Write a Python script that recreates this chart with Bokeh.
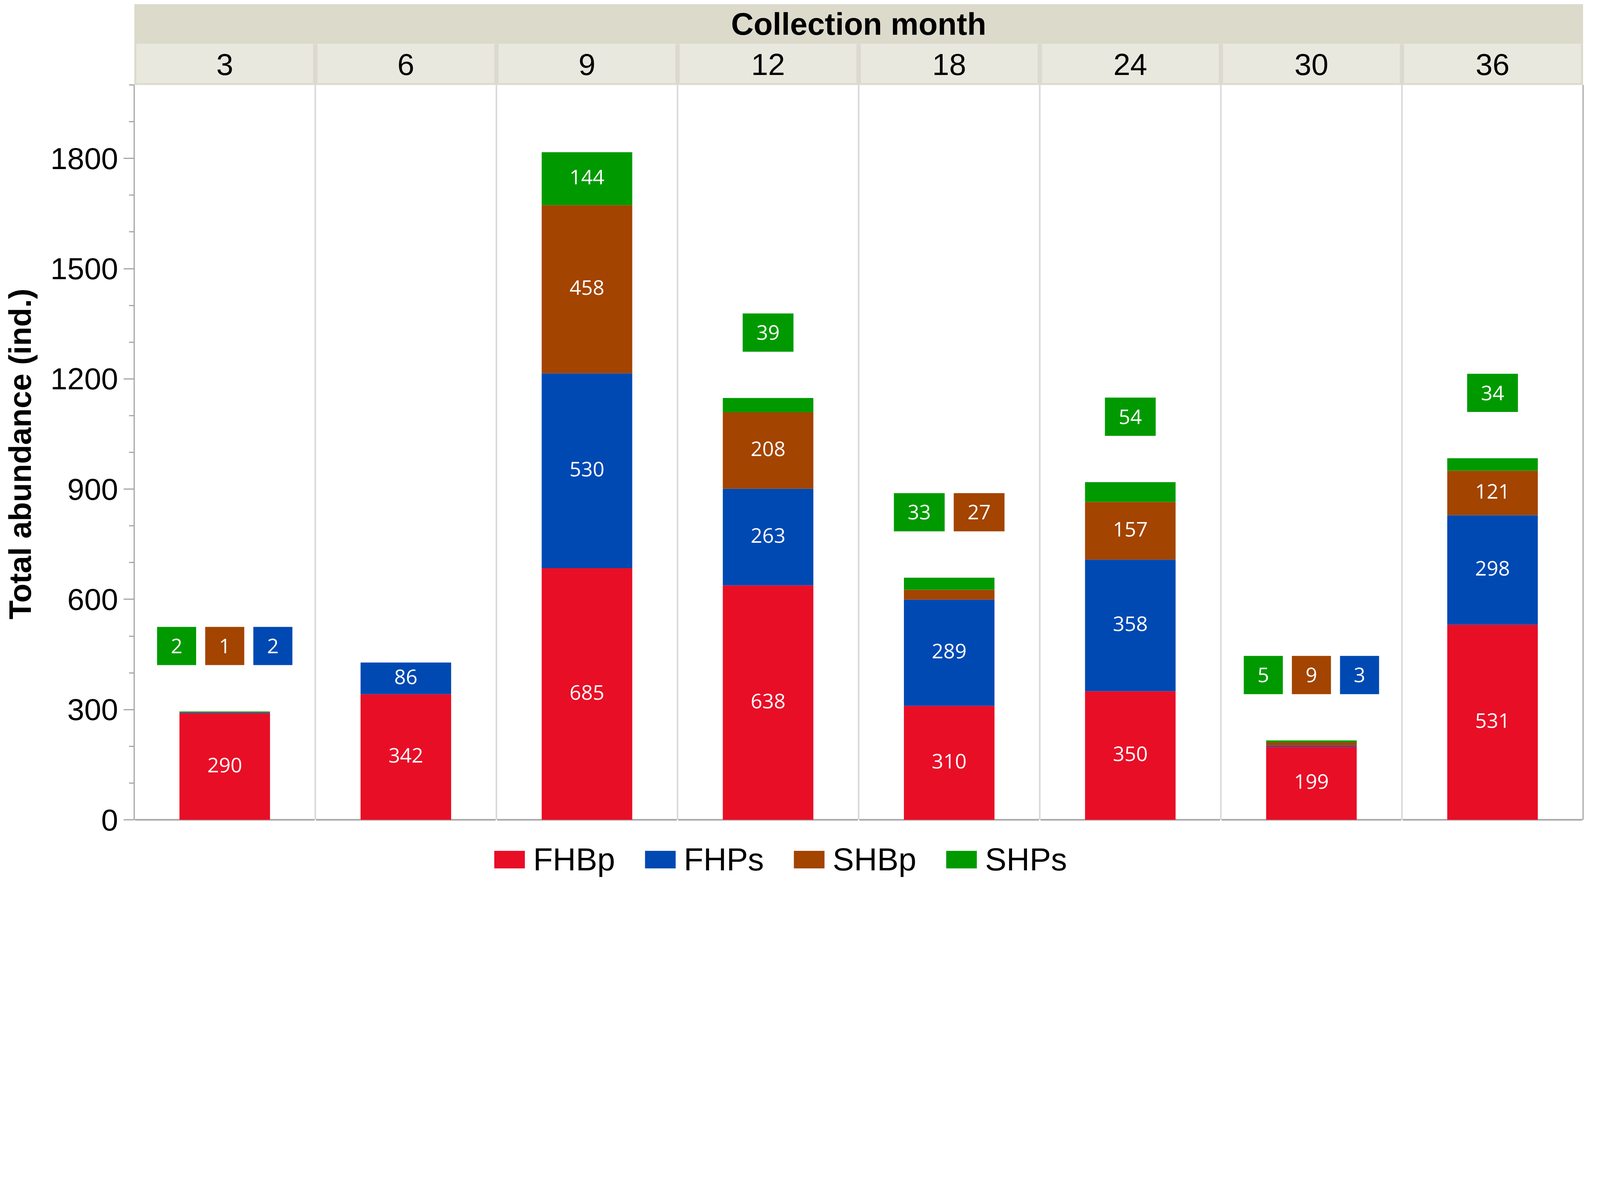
from bokeh.core.properties import value
from bokeh.embed import file_html
from bokeh.models import ColumnDataSource, FixedTicker, Legend, LegendItem, Range1d
from bokeh.plotting import figure
from bokeh.resources import INLINE

months = ["3", "6", "9", "12", "18", "24", "30", "36"]
groups = ["FHBp", "FHPs", "SHBp", "SHPs"]
fhbp = [290, 342, 685, 638, 310, 350, 199, 531]
fhps = [2, 86, 530, 263, 289, 358, 3, 298]
shbp = [1, 0, 458, 208, 27, 157, 9, 121]
shps = [2, 0, 144, 39, 33, 54, 5, 34]
y_ticks = [0, 300, 600, 900, 1200, 1500, 1800]

colors = ["#E80E26", "#0049B3", "#A34400", "#009A00"]
ARIAL = "Liberation Sans"
LABEL_FONT = "Open Sans"

W, H = 4060, 2248
Y_TOP = 2000          # top of the value axis
MONTH_BAND = 2112     # top of the month strip
TITLE_BAND = 2220     # top of the "Collection month" strip
PANEL_PX = 463.6
SMALL = 60            # segments below this get a callout box
CALLOUT_LIFT = 178
CALLOUT_H = 104
GAP = 0.05

n = len(months)
totals = [a + b + c + d for a, b, c, d in zip(fhbp, fhps, shbp, shps)]

source = ColumnDataSource(dict(x=[i + 0.5 for i in range(n)], FHBp=fhbp, FHPs=fhps,
                               SHBp=shbp, SHPs=shps))

p = figure(width=W, height=H, x_range=Range1d(0, n + 0.006),
           y_range=Range1d(-158.3, TITLE_BAND), x_axis_location=None,
           toolbar_location=None, output_backend="svg",
           min_border_left=343, min_border_right=5, min_border_top=10, min_border_bottom=0)
p.outline_line_color = None
p.xgrid.visible = False
p.ygrid.visible = False

# header strips
p.quad(left=[0], right=[n], bottom=[MONTH_BAND], top=[TITLE_BAND],
       fill_color="#DCDACB", line_color=None)
p.quad(left=[0], right=[n], bottom=[Y_TOP], top=[MONTH_BAND],
       fill_color="#DCDACB", line_color=None)
p.quad(left=[i + 0.012 for i in range(n)], right=[i + 0.988 for i in range(n)],
       bottom=[Y_TOP + 5] * n, top=[MONTH_BAND] * n,
       fill_color="#E8E8DE", line_color=None)
p.text(x=[n / 2], y=[(MONTH_BAND + TITLE_BAND) / 2], text=["Collection month"],
       text_font=value(ARIAL), text_font_style="bold", text_font_size="80px",
       text_align="center", text_baseline="middle", text_color="black")
p.text(x=[i + 0.5 for i in range(n)], y=[(Y_TOP + MONTH_BAND) / 2] * n, text=months,
       text_font=value(ARIAL), text_font_size="78px",
       text_align="center", text_baseline="middle", text_color="black")

# panel separators and frame lines
p.segment(x0=list(range(1, n)), y0=[0] * (n - 1), x1=list(range(1, n)), y1=[MONTH_BAND] * (n - 1),
          line_color="#D9D9D9", line_width=4)
p.segment(x0=[n], y0=[0], x1=[n], y1=[Y_TOP], line_color="#A6A6A6", line_width=3)
p.segment(x0=[i + 0.004 for i in range(n)], y0=[0] * n, x1=[i + 0.996 for i in range(n)], y1=[0] * n,
          line_color="#A6A6A6", line_width=4)

# stacked bars
bars = p.vbar_stack(groups, x="x", width=0.5, color=colors, line_color=None, source=source)

# labels inside the segments
series = [fhbp, fhps, shbp, shps]
lx, ly, lt = [], [], []
for i in range(n):
    base = 0
    for vals in series:
        v = vals[i]
        if v >= SMALL:
            lx.append(i + 0.5)
            ly.append(base + v / 2)
            lt.append(str(v))
        base += v
p.text(x=lx, y=ly, text=lt, text_font=value(LABEL_FONT), text_font_size="52px",
       text_align="center", text_baseline="middle", text_color="white", y_offset=-4)

# callout boxes for the thin segments
cx, cy, cw, ct, cc = [], [], [], [], []
for i in range(n):
    small = [(vals[i], colors[k]) for k, vals in [(3, shps), (2, shbp), (1, fhps)]
             if 0 < vals[i] < SMALL]
    if not small:
        continue
    widths = [(70 + 30 * len(str(v))) / PANEL_PX for v, _ in small]
    left = i + 0.5 - (sum(widths) + GAP * (len(small) - 1)) / 2
    for (v, c), w in zip(small, widths):
        cx.append(left + w / 2)
        cy.append(totals[i] + CALLOUT_LIFT)
        cw.append(w)
        ct.append(str(v))
        cc.append(c)
        left += w + GAP
p.rect(x=cx, y=cy, width=cw, height=CALLOUT_H, fill_color=cc, line_color=None)
p.text(x=cx, y=cy, text=ct, text_font=value(LABEL_FONT), text_font_size="52px",
       text_align="center", text_baseline="middle", text_color="white")

# value axis
ax = p.yaxis[0]
ax.bounds = (0, Y_TOP)
ax.ticker = FixedTicker(ticks=y_ticks, minor_ticks=list(range(0, Y_TOP + 1, 100)))
ax.axis_label = "Total abundance (ind.)\u00a0\u00a0\u00a0"
ax.axis_label_text_font = ARIAL
ax.axis_label_text_font_style = "bold"
ax.axis_label_text_font_size = "80px"
ax.axis_label_text_color = "black"
ax.axis_label_standoff = 30
ax.major_label_text_font = ARIAL
ax.major_label_text_font_size = "78px"
ax.major_label_text_color = "black"
ax.major_label_standoff = 14
ax.axis_line_color = "#A6A6A6"
ax.axis_line_width = 3
ax.major_tick_line_color = "#A6A6A6"
ax.major_tick_line_width = 3
ax.major_tick_out = 27
ax.major_tick_in = 0
ax.minor_tick_line_color = "#A6A6A6"
ax.minor_tick_line_width = 3
ax.minor_tick_out = 13
ax.minor_tick_in = 0

legend = Legend(items=[LegendItem(label=g, renderers=[r]) for g, r in zip(groups, bars)],
                orientation="horizontal", location=(912, 0),
                glyph_width=98, glyph_height=56, label_standoff=12, spacing=66,
                label_text_font=ARIAL, label_text_font_size="82px", label_text_color="black",
                padding=0, margin=0, border_line_alpha=0, background_fill_alpha=0)
p.add_layout(legend)

open("out.html", "w").write(file_html(p, INLINE))
